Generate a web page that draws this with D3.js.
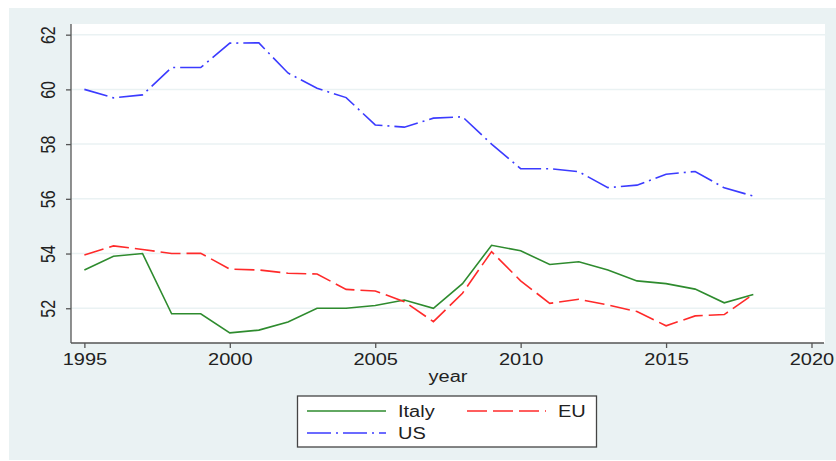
<!DOCTYPE html>
<html>
<head>
<meta charset="utf-8">
<script src="https://cdn.jsdelivr.net/npm/d3@7"></script>
<style>
  body { margin: 0; background: #fff; }
  text { font-family: "Liberation Sans", Arial, sans-serif; fill: #222; }
</style>
</head>
<body>
<div id="chart"></div>
<script>
const W = 836, H = 461
const PLOT = { LEFT: 71, RIGHT: 825, TOP: 24, BOTTOM: 343 }
const STRETCH = 1.25 // text in the picture is a bit wide

const years = [1995, 1996, 1997, 1998, 1999, 2000, 2001, 2002, 2003, 2004, 2005, 2006,
               2007, 2008, 2009, 2010, 2011, 2012, 2013, 2014, 2015, 2016, 2017, 2018]
const italy = [53.4, 53.9, 54.0, 51.8, 51.8, 51.1, 51.2, 51.5, 52.0, 52.0, 52.1, 52.3,
               52.0, 52.9, 54.3, 54.1, 53.6, 53.7, 53.4, 53.0, 52.9, 52.7, 52.2, 52.5]
const eu    = [53.95, 54.28, 54.15, 54.0, 54.01, 53.43, 53.4, 53.28, 53.25, 52.69, 52.63, 52.24,
               51.51, 52.55, 54.07, 53.0, 52.18, 52.33, 52.12, 51.88, 51.36, 51.72, 51.77, 52.51]
const us    = [60.0, 59.69, 59.8, 60.8, 60.8, 61.69, 61.7, 60.6, 60.04, 59.7, 58.7, 58.62,
               58.95, 59.0, 58.0, 57.1, 57.1, 56.99, 56.41, 56.5, 56.9, 57.0, 56.4, 56.1]
const xTicks = [1995, 2000, 2005, 2010, 2015, 2020]
const yTicks = [52, 54, 56, 58, 60, 62]

const series = [
  { name: "Italy", values: italy, color: "#2e8b2e", dash: null },
  { name: "EU", values: eu, color: "#ff2a2a", dash: "20,6" },
  { name: "US", values: us, color: "#3b3bff", dash: "24,5,2,5" }
]

const svg = d3.select("#chart").append("svg")
  .attr("width", W).attr("height", H)

// outer background
svg.append("rect").attr("x", 9).attr("y", 8)
  .attr("width", W - 9).attr("height", H - 9)
  .attr("fill", "#eaf2f3")

// plot region
svg.append("rect").attr("x", PLOT.LEFT).attr("y", PLOT.TOP)
  .attr("width", PLOT.RIGHT - PLOT.LEFT).attr("height", PLOT.BOTTOM - PLOT.TOP)
  .attr("fill", "#fff")

const x = d3.scaleLinear().domain([1994.54, 2020.43]).range([PLOT.LEFT, PLOT.RIGHT - 1])
const y = d3.scaleLinear().domain([50.73, 62.39]).range([PLOT.BOTTOM, PLOT.TOP])

// grid
svg.append("g").selectAll("line").data(yTicks).join("line")
  .attr("x1", PLOT.LEFT).attr("x2", PLOT.RIGHT)
  .attr("y1", d => y(d)).attr("y2", d => y(d))
  .attr("stroke", "#eaf2f3").attr("stroke-width", 1.5)

// axes
const xAxis = svg.append("g").attr("transform", `translate(0, ${PLOT.BOTTOM})`)
  .call(d3.axisBottom(x).tickValues(xTicks).tickSize(5).tickFormat(d3.format("d")))
const yAxis = svg.append("g").attr("transform", `translate(${PLOT.LEFT}, 0)`)
  .call(d3.axisLeft(y).tickValues(yTicks).tickSize(5))

for (const g of [xAxis, yAxis]) {
  g.select(".domain").attr("stroke", "#555").attr("stroke-width", 1.3)
  g.selectAll(".tick line").attr("stroke", "#555").attr("stroke-width", 1.3)
  g.selectAll(".tick text").attr("font-size", 16).attr("fill", "#222")
}
xAxis.select(".domain").attr("d", `M${PLOT.LEFT},0H${PLOT.RIGHT - 1}`)
yAxis.select(".domain").attr("d", `M0,${PLOT.TOP}V${PLOT.BOTTOM}`)

xAxis.selectAll(".tick text")
  .attr("y", 0).attr("dy", null)
  .attr("transform", `translate(0, 22) scale(${STRETCH}, 1)`)

yAxis.selectAll(".tick text")
  .attr("x", 0).attr("dy", null).attr("text-anchor", "middle")
  .attr("transform", `translate(-16, 0) scale(${STRETCH}, 1) rotate(-90)`)

// x title
svg.append("text")
  .attr("transform", `translate(${(PLOT.LEFT + PLOT.RIGHT) / 2}, 382) scale(${STRETCH}, 1)`)
  .attr("text-anchor", "middle").attr("font-size", 16)
  .text("year")

// lines
const line = vals => d3.line()
  .x((d, i) => x(years[i]))
  .y(d => y(d))(vals)

svg.append("g").selectAll("path").data(series).join("path")
  .attr("d", d => line(d.values))
  .attr("fill", "none")
  .attr("stroke", d => d.color)
  .attr("stroke-width", 1.6)
  .attr("stroke-dasharray", d => d.dash)

// legend
const leg = svg.append("g")
leg.append("rect").attr("x", 297.5).attr("y", 396)
  .attr("width", 299).attr("height", 51)
  .attr("fill", "#fff").attr("stroke", "#444").attr("stroke-width", 1.3)

const legPos = [
  { x: 307, y: 411 },
  { x: 467, y: 411 },
  { x: 307, y: 433 }
]
series.forEach((s, i) => {
  const p = legPos[i]
  leg.append("line")
    .attr("x1", p.x).attr("x2", p.x + 79)
    .attr("y1", p.y).attr("y2", p.y)
    .attr("stroke", s.color).attr("stroke-width", 1.6)
    .attr("stroke-dasharray", s.dash)
  leg.append("text")
    .attr("transform", `translate(${p.x + 91}, ${p.y + 6}) scale(${STRETCH}, 1)`)
    .attr("font-size", 16)
    .text(s.name)
})
</script>
</body>
</html>
